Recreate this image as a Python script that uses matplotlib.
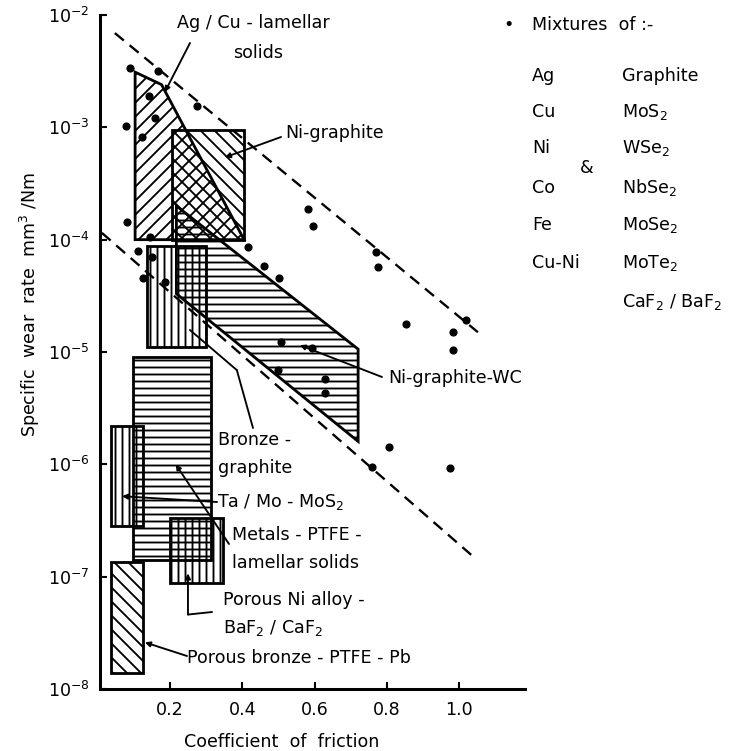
import matplotlib
matplotlib.use("Agg")
import matplotlib.pyplot as plt
from matplotlib.patches import Polygon

plt.rcParams['font.family'] = ['DejaVu Sans']
plt.rcParams['mathtext.default'] = 'regular'
plt.rcParams['hatch.linewidth'] = 1.6

DPI = 84
W, H = 753, 751

# ---------------- data ----------------
# scatter points: mixtures of metals & lamellar solids
dot_mu = [0.090, 0.167, 0.142, 0.275, 0.079, 0.159, 0.123, 0.081, 0.145, 0.112,
          0.416, 0.460, 0.501, 0.126, 0.151, 0.186, 0.507, 0.593, 0.499, 0.628,
          0.628, 0.769, 0.775, 0.852, 1.018, 0.982, 0.982, 0.805, 0.758, 0.974,
          0.581, 0.595]
dot_wear = [3.4e-3, 3.2e-3, 1.9e-3, 1.55e-3, 1.03e-3, 1.2e-3, 8.2e-4, 1.44e-4, 1.05e-4, 7.9e-5,
            8.6e-5, 5.8e-5, 4.6e-5, 4.6e-5, 7.0e-5, 4.2e-5, 1.22e-5, 1.08e-5, 6.9e-6, 5.7e-6,
            4.3e-6, 7.8e-5, 5.7e-5, 1.77e-5, 1.92e-5, 1.5e-5, 1.04e-5, 1.42e-6, 9.4e-7, 9.2e-7,
            1.87e-4, 1.32e-4]

# bounding dashed lines
upper_mu = [0.048, 1.051]
upper_wear = [6.9e-3, 1.5e-5]
lower_mu = [0.012, 1.043]
lower_wear = [1.15e-4, 1.46e-7]

# material regions (polygon vertices)
agcu_mu = [0.104, 0.177, 0.405, 0.104]
agcu_wear = [3.1e-3, 2.4e-3, 1.0e-4, 1.0e-4]

nigr_mu = [0.205, 0.405]
nigr_wear = [1.0e-4, 9.5e-4]

niwc_mu = [0.218, 0.720, 0.720, 0.218]
niwc_wear = [2.0e-4, 1.06e-5, 1.6e-6, 3.3e-5]

bronze_mu = [0.137, 0.300]
bronze_wear = [1.1e-5, 8.7e-5]

tamo_mu = [0.037, 0.126]
tamo_wear = [2.8e-7, 2.2e-6]

metals_mu = [0.098, 0.314]
metals_wear = [1.4e-7, 9.1e-6]

porni_mu = [0.200, 0.347]
porni_wear = [8.7e-8, 3.3e-7]

porbr_mu = [0.037, 0.126]
porbr_wear = [1.4e-8, 1.35e-7]

xticks = [0.2, 0.4, 0.6, 0.8, 1.0]
xticklabels = ['0.2', '0.4', '0.6', '0.8', '1.0']
yticks = [1e-8, 1e-7, 1e-6, 1e-5, 1e-4, 1e-3, 1e-2]

legend_metals = ['Ag', 'Cu', 'Ni', 'Co', 'Fe', 'Cu-Ni']
legend_solids = ['Graphite', 'MoS$_2$', 'WSe$_2$', 'NbSe$_2$', 'MoSe$_2$', 'MoTe$_2$',
                 'CaF$_2$ / BaF$_2$']

# ---------------- figure ----------------
fig = plt.figure(figsize=(W / DPI, H / DPI), dpi=DPI)
ax = fig.add_axes([100 / W, 1 - 689 / H, 425 / W, 674 / H])
ax.set_yscale('log')
ax.set_xlim(0.007, 1.181)
ax.set_ylim(1e-8, 1e-2)

for s in ['top', 'right']:
    ax.spines[s].set_visible(False)
for s in ['left', 'bottom']:
    ax.spines[s].set_linewidth(2.6)

FS = 15

ax.set_xticks(xticks)
ax.set_xticklabels(xticklabels)
ax.set_yticks(yticks)
ax.yaxis.set_minor_locator(matplotlib.ticker.NullLocator())
ax.tick_params(axis='x', direction='in', length=6, width=1.8, pad=10, labelsize=FS)
ax.tick_params(axis='y', direction='in', length=6, width=1.8, pad=9, labelsize=FS)

EDGE = 2.4


def rect(mu, wear):
    return [mu[0], mu[1], mu[1], mu[0]], [wear[0], wear[0], wear[1], wear[1]]


def region(xs, ys, hatch, z=2):
    p = Polygon(list(zip(xs, ys)), closed=True, facecolor='none', edgecolor='black',
                linewidth=EDGE, hatch=hatch, zorder=z)
    ax.add_patch(p)


region(agcu_mu, agcu_wear, '//')
region(*rect(nigr_mu, nigr_wear), '\\\\')
region(niwc_mu, niwc_wear, '--')
region(*rect(bronze_mu, bronze_wear), '||')
region(*rect(metals_mu, metals_wear), '--')
region(*rect(tamo_mu, tamo_wear), '||')
region(*rect(porni_mu, porni_wear), '||')
region(*rect(porbr_mu, porbr_wear), '\\\\')

ax.plot(upper_mu, upper_wear, color='black', lw=2.0, dashes=(5, 3.2), zorder=3)
ax.plot(lower_mu, lower_wear, color='black', lw=2.0, dashes=(5, 3.2), zorder=3)

ax.plot(dot_mu, dot_wear, 'o', color='black', markersize=6, zorder=4, clip_on=False)


def P(x, y):
    return (x, H - y)


def ftext(x, y, s, **kw):
    fig.text(x / W, 1 - y / H, s, fontsize=FS, va='center', ha=kw.pop('ha', 'left'), **kw)


arrow_kw = dict(arrowstyle='-|>', color='black', lw=1.6, mutation_scale=9,
                shrinkA=0, shrinkB=0)
line_kw = dict(arrowstyle='-', color='black', lw=1.6, shrinkA=0, shrinkB=0)

# Ag/Cu
ftext(177, 23, 'Ag / Cu - lamellar')
ftext(233, 53, 'solids')
ax.annotate('', xy=(0.186, 2.06e-3), xytext=P(190, 43), textcoords='figure pixels',
            arrowprops=arrow_kw)
# Ni-graphite
ftext(285, 133, 'Ni-graphite')
ax.annotate('', xy=(0.352, 5.4e-4), xytext=P(281, 137), textcoords='figure pixels',
            arrowprops=arrow_kw)
# Ni-graphite-WC
ftext(388, 378, 'Ni-graphite-WC')
ax.annotate('', xy=(0.559, 1.15e-5), xytext=P(382, 377), textcoords='figure pixels',
            arrowprops=arrow_kw)
# Bronze-graphite
ftext(218, 440, 'Bronze -')
ftext(218, 468, 'graphite')
ax.annotate('', xy=(0.385, 6.9e-6), xytext=P(253, 428), textcoords='figure pixels',
            arrowprops=line_kw)
ax.annotate('', xy=(0.2555, 1.57e-5), xytext=(0.385, 6.9e-6), arrowprops=line_kw)
# Ta/Mo-MoS2
ftext(217, 502, 'Ta / Mo - MoS$_2$')
ax.annotate('', xy=(0.068, 5.2e-7), xytext=P(217, 502), textcoords='figure pixels',
            arrowprops=arrow_kw)
# Metals-PTFE
ftext(232, 535, 'Metals - PTFE -')
ftext(232, 563, 'lamellar solids')
ax.annotate('', xy=(0.216, 1.0e-6), xytext=P(229, 544), textcoords='figure pixels',
            arrowprops=arrow_kw)
# Porous Ni alloy
ftext(223, 600, 'Porous Ni alloy -')
ftext(223, 628, 'BaF$_2$ / CaF$_2$')
ax.annotate('', xy=(0.250, 1.07e-7), xytext=(0.250, 4.6e-8), arrowprops=arrow_kw)
ax.annotate('', xy=(0.250, 4.6e-8), xytext=P(212, 612), textcoords='figure pixels',
            arrowprops=line_kw)
# Porous bronze
ftext(187, 658, 'Porous bronze - PTFE - Pb')
ax.annotate('', xy=(0.131, 2.6e-8), xytext=P(187, 656), textcoords='figure pixels',
            arrowprops=arrow_kw)

# legend block
fig.text(509 / W, 1 - 25 / H, '\u2022', fontsize=FS, ha='center', va='center')
ftext(532, 25, 'Mixtures  of :-')
rows_y = [76, 112, 148, 188, 225, 263, 302]
for i, m in enumerate(legend_metals):
    ftext(532, rows_y[i], m)
for i, s in enumerate(legend_solids):
    ftext(622, rows_y[i], s)
ftext(587, 168, '&', ha='center')

# axis labels
ftext(282, 742, 'Coefficient  of  friction', ha='center')
fig.text(30 / W, 1 - 305 / H, 'Specific  wear  rate  mm$^3$ /Nm', fontsize=FS,
         rotation=90, ha='center', va='center')

fig.savefig('out.png', dpi=DPI)
